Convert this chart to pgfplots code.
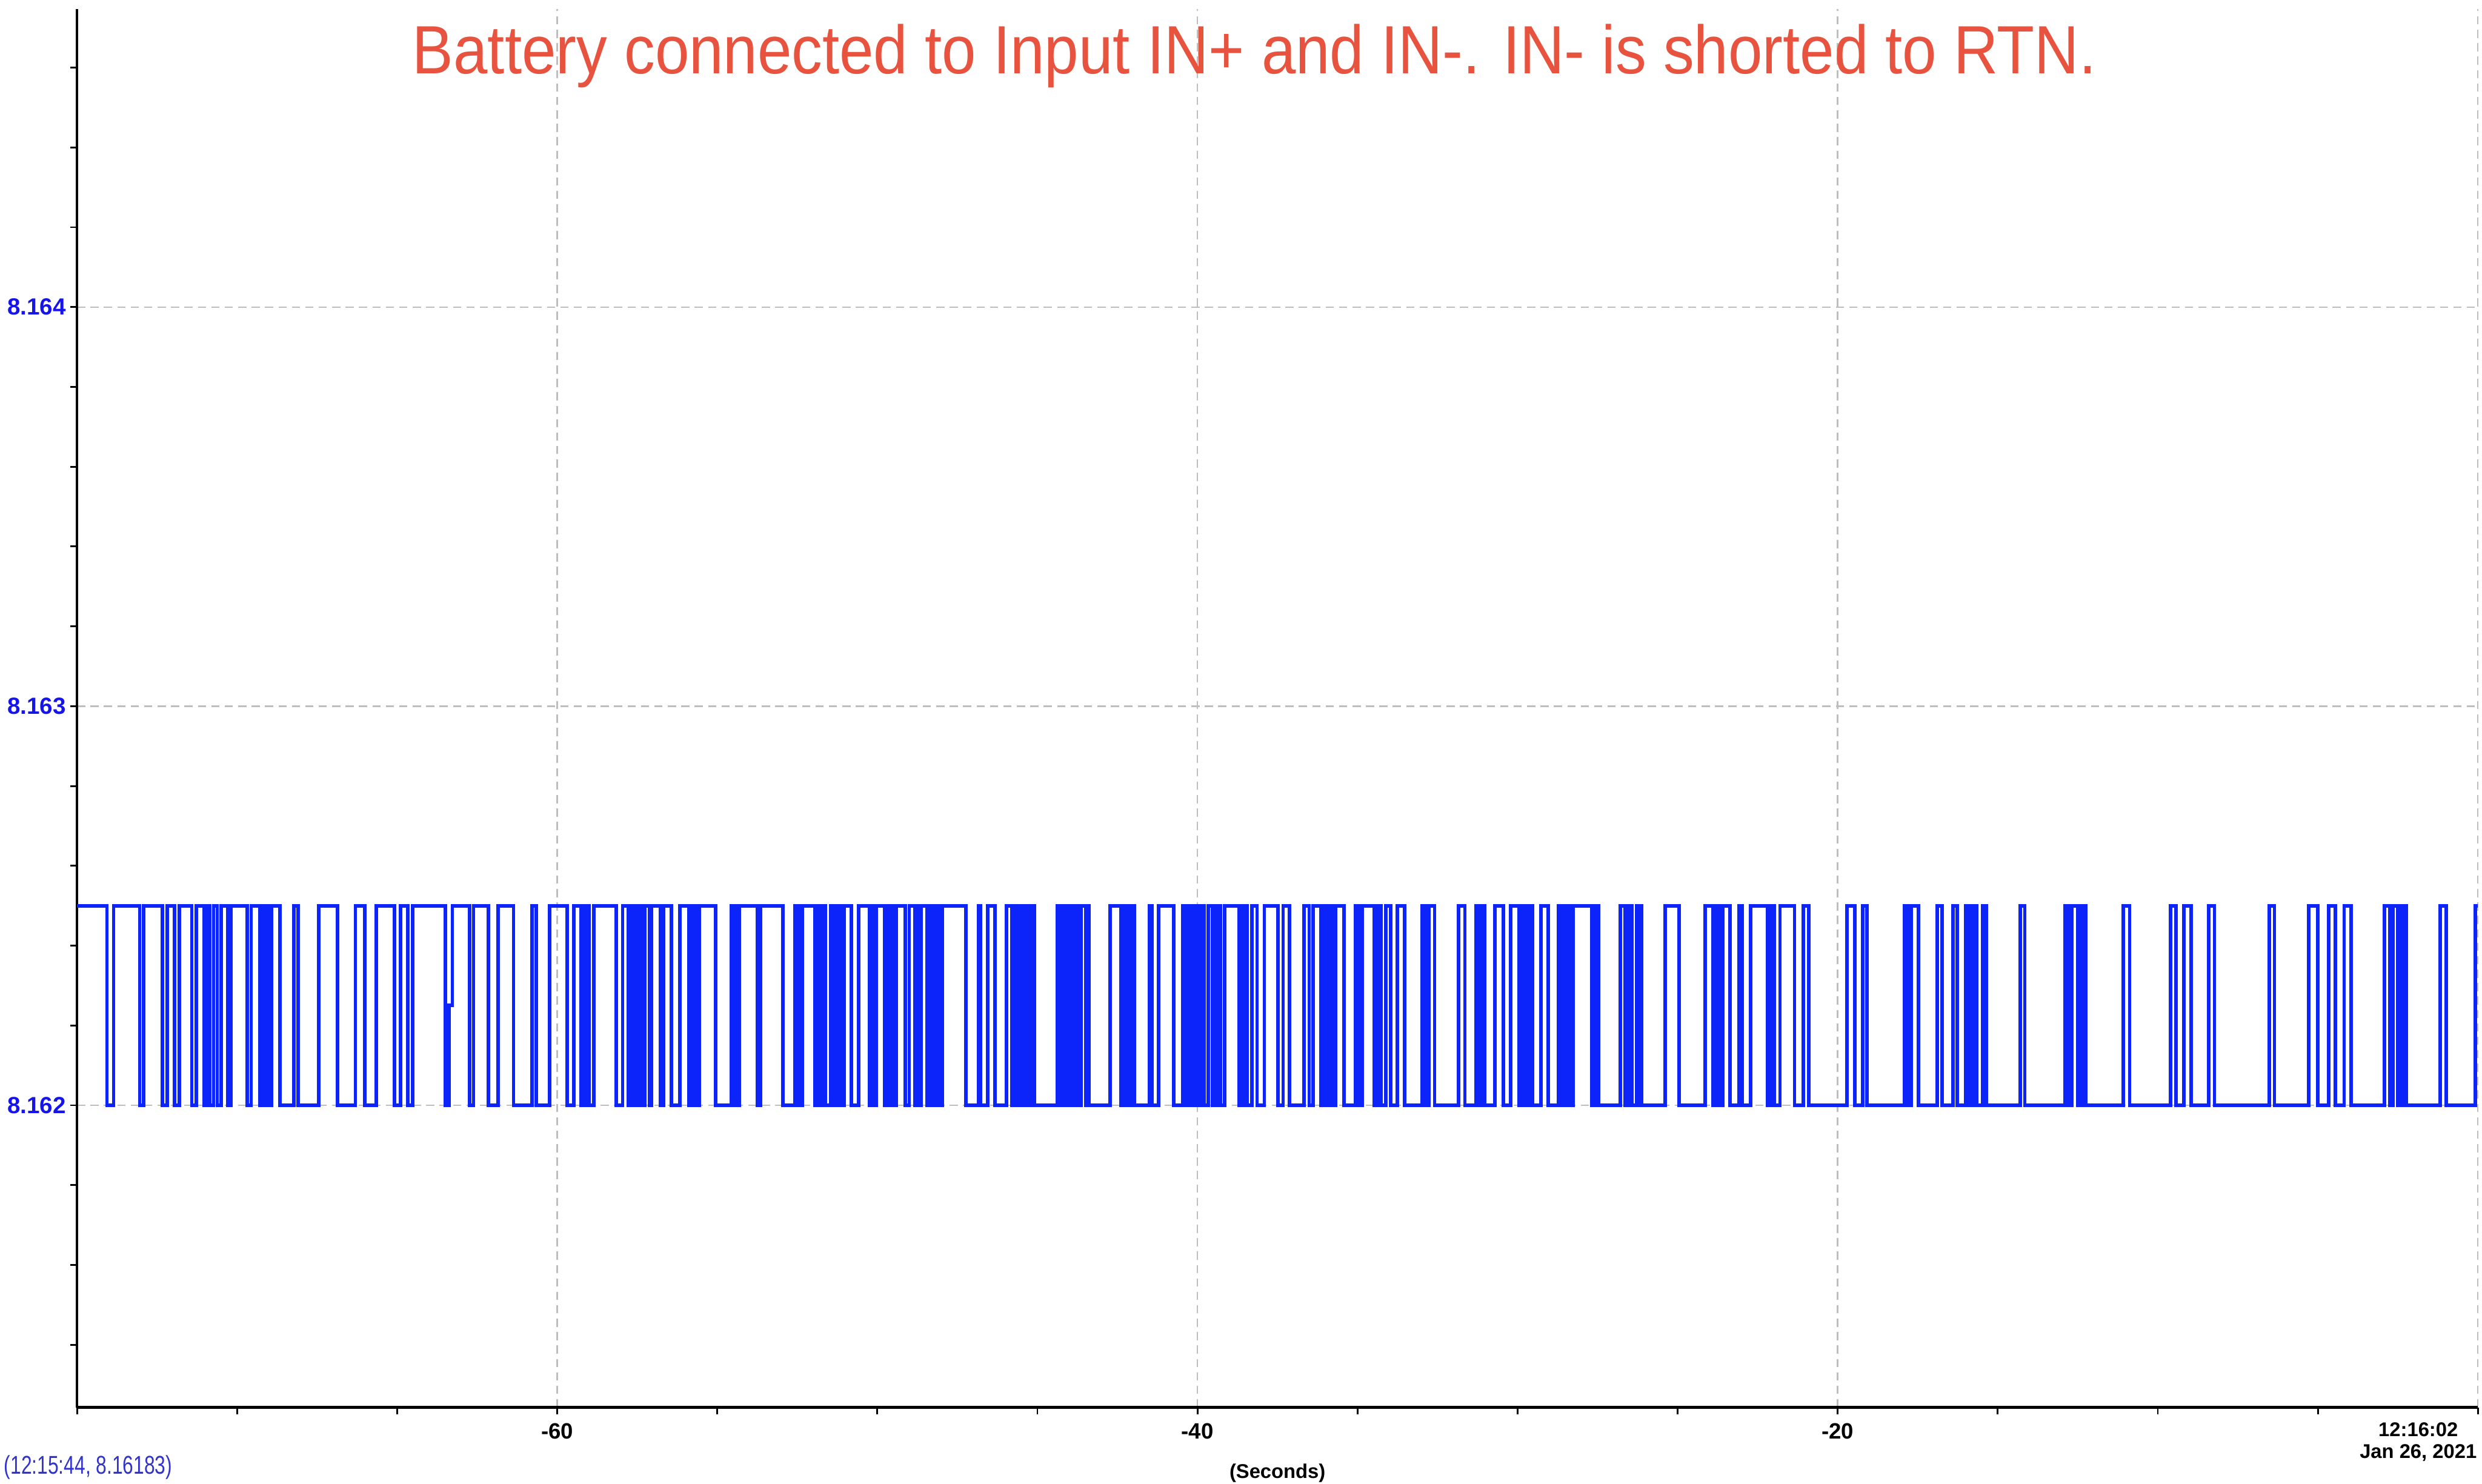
\documentclass[border=0pt]{standalone}
\usepackage{fontspec}
\setmainfont{Liberation Sans}
\newfontfamily\narrowfont[FakeStretch=0.75]{Liberation Sans}
\newfontfamily\titlefont[FakeStretch=0.90]{Liberation Sans}
\usepackage{pgfplots}
\pgfplotsset{compat=1.18}
\definecolor{sig}{RGB}{12,36,250}
\definecolor{ytickblue}{RGB}{20,20,235}
\definecolor{coordblue}{RGB}{50,50,205}
\definecolor{titlered}{RGB}{232,83,63}
\definecolor{gridgray}{RGB}{190,190,190}
\begin{document}
\begin{tikzpicture}
\useasboundingbox (-13.2pt,-13.1pt) rectangle (412.0pt,241.1pt);
\begin{axis}[
  scale only axis, width=411.3pt, height=239.5pt,
  xmin=-75, xmax=0, ymin=8.161243, ymax=8.164746,
  clip=false,
  axis x line*=bottom, axis y line*=left,
  axis line style={line width=0.45pt, black},
  xtick={-60,-40,-20,0}, xticklabels={-60,-40,-20,{}},
  minor xtick={-75,-70,-65,-55,-50,-45,-35,-30,-25,-15,-10,-5},
  ytick={8.162,8.163,8.164}, yticklabels={8.162,8.163,8.164},
  minor ytick={8.1614,8.1616,8.1618,8.1622,8.1624,8.1626,8.1628,8.1632,8.1634,8.1636,8.1638,8.1642,8.1644,8.1646},
  tick align=outside,
  major tick length=1.2pt, minor tick length=1.2pt,
  every tick/.style={line width=0.3pt, black},
  grid=major,
  major grid style={line width=0.25pt, gridgray, dash pattern=on 1.4pt off 0.9pt},
  /pgf/number format/assume math mode=true,
  xticklabel style={font=\fontsize{3.8}{4}\selectfont\bfseries, anchor=base, inner sep=0pt, yshift=-4.2pt},
  yticklabel style={font=\fontsize{4.0}{4.4}\selectfont\bfseries, text=ytickblue, anchor=east, inner sep=0pt, xshift=-0.5pt},
  xlabel={(Seconds)},
  xlabel style={at={(axis description cs:0.5,0)}, anchor=base, inner sep=0pt, yshift=-12.1pt, font=\fontsize{3.4}{4}\selectfont\bfseries},
]
\addplot[const plot, sig, line width=0.6pt] table {
t v
-75 8.1625
-74.066 8.162
-73.858 8.1625
-73.044 8.162
-72.927 8.1625
-72.328 8.162
-72.185 8.1625
-71.957 8.162
-71.807 8.1625
-71.416 8.162
-71.273 8.1625
-71.026 8.162
-70.947 8.1625
-70.863 8.162
-70.733 8.1625
-70.622 8.162
-70.505 8.1625
-70.297 8.162
-70.192 8.1625
-69.691 8.162
-69.561 8.1625
-69.281 8.162
-69.203 8.1625
-69.138 8.162
-69.073 8.1625
-69.008 8.162
-68.930 8.1625
-68.669 8.162
-68.226 8.1625
-68.096 8.162
-67.445 8.1625
-66.859 8.162
-66.306 8.1625
-66.013 8.162
-65.655 8.1625
-65.087 8.162
-64.892 8.1625
-64.664 8.162
-64.514 8.1625
-63.492 8.162
-63.381 8.16225
-63.277 8.1625
-62.743 8.162
-62.613 8.1625
-62.144 8.162
-61.845 8.1625
-61.363 8.162
-60.790 8.1625
-60.660 8.162
-60.237 8.1625
-59.683 8.162
-59.488 8.1625
-59.260 8.162
-59.195 8.1625
-59.130 8.162
-59.065 8.1625
-59.000 8.162
-58.850 8.1625
-58.153 8.162
-57.958 8.1625
-57.782 8.162
-57.717 8.1625
-57.652 8.162
-57.587 8.1625
-57.522 8.162
-57.437 8.1625
-57.327 8.162
-57.262 8.1625
-57.111 8.162
-57.047 8.1625
-56.767 8.162
-56.676 8.1625
-56.428 8.162
-56.168 8.1625
-55.894 8.162
-55.829 8.1625
-55.764 8.162
-55.699 8.1625
-55.634 8.162
-55.569 8.1625
-55.047 8.162
-54.558 8.1625
-54.500 8.162
-54.448 8.1625
-54.383 8.162
-54.304 8.1625
-53.745 8.162
-53.647 8.1625
-52.950 8.162
-52.573 8.1625
-52.521 8.162
-52.469 8.1625
-52.416 8.162
-52.338 8.1625
-51.954 8.162
-51.889 8.1625
-51.824 8.162
-51.746 8.1625
-51.629 8.162
-51.466 8.1625
-51.414 8.162
-51.362 8.1625
-51.310 8.162
-51.258 8.1625
-51.206 8.162
-51.154 8.1625
-51.101 8.162
-51.036 8.1625
-50.815 8.162
-50.587 8.1625
-50.242 8.162
-50.177 8.1625
-50.112 8.162
-50.034 8.1625
-49.773 8.162
-49.708 8.1625
-49.656 8.162
-49.591 8.1625
-49.480 8.162
-49.415 8.1625
-49.122 8.162
-49.005 8.1625
-48.829 8.162
-48.764 8.1625
-48.699 8.162
-48.634 8.1625
-48.439 8.162
-48.341 8.1625
-48.276 8.162
-48.211 8.1625
-48.146 8.162
-48.081 8.1625
-48.029 8.162
-47.976 8.1625
-47.234 8.162
-46.844 8.1625
-46.778 8.162
-46.551 8.1625
-46.323 8.162
-45.965 8.1625
-45.788 8.162
-45.735 8.1625
-45.683 8.162
-45.631 8.1625
-45.579 8.162
-45.527 8.1625
-45.475 8.162
-45.423 8.1625
-45.299 8.162
-45.247 8.1625
-45.195 8.162
-45.143 8.1625
-45.091 8.162
-44.381 8.1625
-44.316 8.162
-44.264 8.1625
-44.212 8.162
-44.160 8.1625
-44.108 8.162
-44.056 8.1625
-44.004 8.162
-43.952 8.1625
-43.900 8.162
-43.848 8.1625
-43.795 8.162
-43.743 8.1625
-43.691 8.162
-43.626 8.1625
-43.496 8.162
-43.444 8.1625
-43.392 8.162
-42.728 8.1625
-42.389 8.162
-42.337 8.1625
-42.285 8.162
-42.233 8.1625
-42.181 8.162
-42.129 8.1625
-42.077 8.162
-42.025 8.1625
-41.972 8.162
-41.504 8.1625
-41.426 8.162
-41.217 8.1625
-40.742 8.162
-40.462 8.1625
-40.410 8.162
-40.358 8.1625
-40.306 8.162
-40.254 8.1625
-40.202 8.162
-40.150 8.1625
-40.098 8.162
-40.045 8.1625
-39.928 8.162
-39.863 8.1625
-39.798 8.162
-39.668 8.1625
-39.538 8.162
-39.473 8.1625
-39.420 8.162
-39.355 8.1625
-39.277 8.162
-39.147 8.1625
-38.691 8.162
-38.626 8.1625
-38.574 8.162
-38.509 8.1625
-38.457 8.162
-38.301 8.1625
-38.138 8.162
-37.910 8.1625
-37.487 8.162
-37.324 8.1625
-37.129 8.162
-36.673 8.1625
-36.510 8.162
-36.380 8.1625
-36.151 8.162
-36.099 8.1625
-36.047 8.162
-35.995 8.1625
-35.943 8.162
-35.890 8.1625
-35.838 8.162
-35.786 8.1625
-35.734 8.162
-35.682 8.1625
-35.422 8.162
-35.064 8.1625
-35.012 8.162
-34.960 8.1625
-34.907 8.162
-34.855 8.1625
-34.478 8.162
-34.426 8.1625
-34.374 8.162
-34.322 8.1625
-34.269 8.162
-34.120 8.1625
-33.957 8.162
-33.762 8.1625
-33.534 8.162
-32.980 8.1625
-32.928 8.162
-32.876 8.1625
-32.824 8.162
-32.772 8.1625
-32.590 8.162
-31.841 8.1625
-31.646 8.162
-31.288 8.1625
-31.236 8.162
-31.183 8.1625
-31.131 8.162
-31.079 8.1625
-31.027 8.162
-30.702 8.1625
-30.441 8.162
-30.213 8.1625
-29.953 8.162
-29.901 8.1625
-29.849 8.162
-29.797 8.1625
-29.745 8.162
-29.693 8.1625
-29.641 8.162
-29.588 8.1625
-29.536 8.162
-29.270 8.1625
-29.042 8.162
-28.716 8.1625
-28.664 8.162
-28.612 8.1625
-28.560 8.162
-28.508 8.1625
-28.456 8.162
-28.403 8.1625
-28.351 8.162
-28.273 8.1625
-27.674 8.162
-27.622 8.1625
-27.570 8.162
-27.518 8.1625
-27.466 8.162
-26.796 8.1625
-26.633 8.162
-26.581 8.1625
-26.529 8.162
-26.477 8.1625
-26.424 8.162
-26.275 8.1625
-26.223 8.162
-26.170 8.1625
-26.118 8.162
-25.383 8.1625
-24.960 8.162
-24.146 8.1625
-23.886 8.162
-23.834 8.1625
-23.782 8.162
-23.730 8.1625
-23.678 8.162
-23.593 8.1625
-23.365 8.162
-23.085 8.1625
-22.975 8.162
-22.714 8.1625
-22.193 8.162
-22.141 8.1625
-22.089 8.162
-22.037 8.1625
-21.985 8.162
-21.803 8.1625
-21.347 8.162
-21.074 8.1625
-20.904 8.162
-19.706 8.1625
-19.459 8.162
-19.218 8.1625
-19.081 8.162
-17.916 8.1625
-17.864 8.162
-17.812 8.1625
-17.760 8.162
-17.708 8.1625
-17.473 8.162
-16.887 8.1625
-16.738 8.162
-16.399 8.1625
-16.260 8.162
-16.002 8.1625
-15.911 8.162
-15.859 8.1625
-15.807 8.162
-15.755 8.1625
-15.664 8.162
-15.468 8.1625
-15.351 8.162
-14.296 8.1625
-14.153 8.162
-12.897 8.1625
-12.845 8.162
-12.793 8.1625
-12.740 8.162
-12.688 8.1625
-12.506 8.162
-12.454 8.1625
-12.402 8.162
-12.350 8.1625
-12.246 8.162
-11.074 8.1625
-10.878 8.162
-9.596 8.1625
-9.427 8.162
-9.186 8.1625
-8.958 8.162
-8.404 8.1625
-8.229 8.162
-6.517 8.1625
-6.354 8.162
-5.285 8.1625
-5.000 8.162
-4.665 8.1625
-4.452 8.162
-4.179 8.1625
-3.966 8.162
-2.915 8.1625
-2.751 8.162
-2.660 8.1625
-2.508 8.162
-2.478 8.1625
-2.429 8.162
-2.381 8.1625
-2.332 8.162
-2.284 8.1625
-2.235 8.162
-1.172 8.1625
-0.990 8.162
-0.078 8.1625
0 8.1625
};
\node[anchor=north east, inner sep=0pt, align=center, font=\fontsize{3.4}{3.7}\selectfont\bfseries] at (axis description cs:1,0) [yshift=-2.4pt] {12:16:02\\Jan 26, 2021};
\node[anchor=base west, inner sep=0pt, text=coordblue, font=\narrowfont\fontsize{4.4}{5}\selectfont] at (axis description cs:0,0) [xshift=-12.7pt, yshift=-11.4pt] {(12:15:44, 8.16183)};
\node[anchor=base, inner sep=0pt, text=titlered, font=\titlefont\fontsize{11.7}{13}\selectfont] at (axis description cs:0,1) [xshift=201.7pt, yshift=-11.0pt] {Battery connected to Input IN+ and IN-. IN- is shorted to RTN.};
\end{axis}
\end{tikzpicture}
\end{document}
